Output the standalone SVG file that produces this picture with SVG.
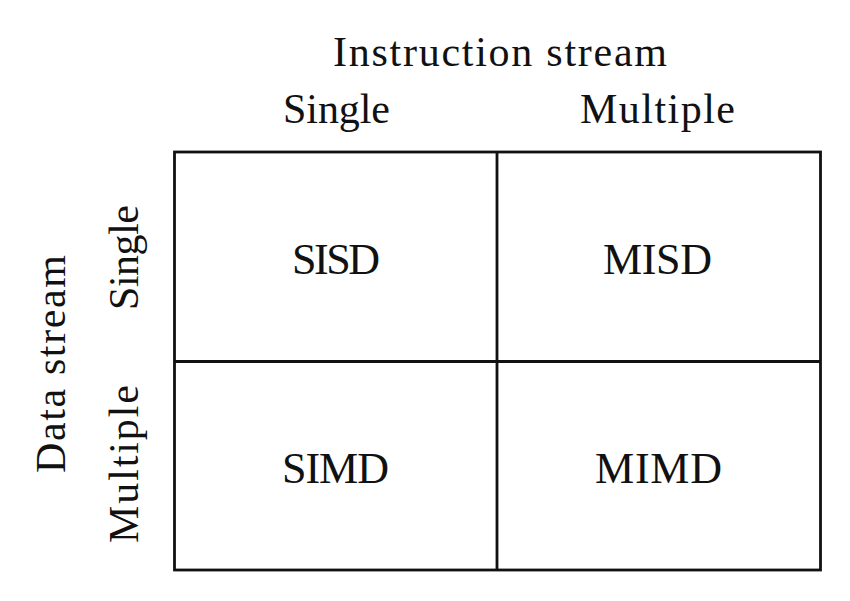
<svg xmlns="http://www.w3.org/2000/svg" width="850" height="601" viewBox="0 0 850 601">
<style>
text{font-family:"Liberation Serif","Times New Roman",serif;fill:#111;text-anchor:middle}
.h{font-size:42px}
.c{font-size:44px}
.ln{stroke:#111;stroke-width:2.8;fill:none}
</style>
<rect width="850" height="601" fill="#fff"/>
<g id="headers">
<text class="h" x="500" y="66" textLength="334">Instruction stream</text>
<text class="h" x="336.5" y="123" textLength="107">Single</text>
<text class="h" x="657.5" y="123" textLength="155">Multiple</text>
<text class="h" transform="translate(65,364) rotate(-90)" textLength="218">Data stream</text>
<text class="h" transform="translate(138,257.5) rotate(-90)" textLength="105">Single</text>
<text class="h" transform="translate(138,464) rotate(-90)" textLength="158">Multiple</text>
</g>
<g id="grid">
<rect class="ln" x="174.5" y="152" width="646" height="418"/>
<line class="ln" x1="497" y1="152" x2="497" y2="570"/>
<line class="ln" x1="174.5" y1="361.5" x2="820.5" y2="361.5"/>
</g>
<g id="SISD"><text class="c" x="336" y="274" textLength="88">SISD</text></g>
<g id="MISD"><text class="c" x="657.5" y="274" textLength="109">MISD</text></g>
<g id="SIMD"><text class="c" x="335.5" y="483" textLength="107">SIMD</text></g>
<g id="MIMD"><text class="c" x="658.5" y="483" textLength="127">MIMD</text></g>
</svg>
